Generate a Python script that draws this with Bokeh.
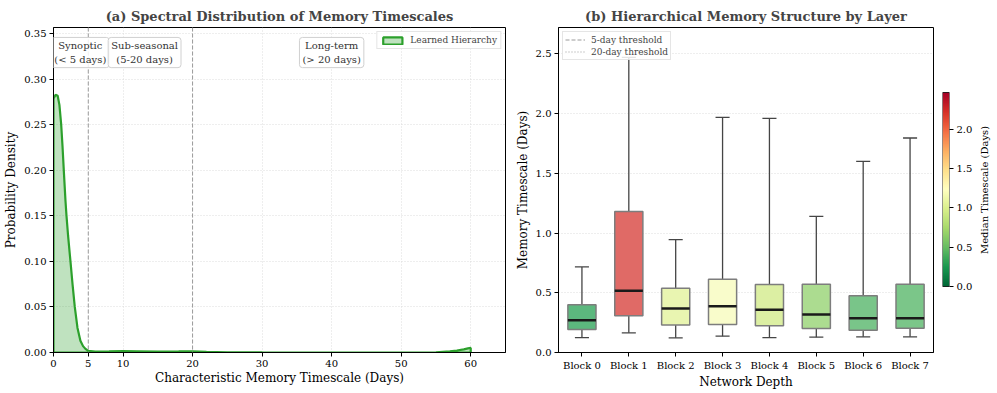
import numpy as np
from bokeh.plotting import figure
from bokeh.layouts import row
from bokeh.models import (ColumnDataSource, FixedTicker, Span, Label,
                          LinearColorMapper, NumeralTickFormatter, FactorRange, Range1d)
from bokeh.transform import dodge
from bokeh.embed import file_html
from bokeh.resources import INLINE

FONT = "DejaVu Serif"

# ---------------- Panel (a) data ----------------
kde_x = [0.0, 0.3, 0.6, 0.85, 1.1, 1.3, 1.48, 1.72, 1.87, 2.1, 2.44, 2.75, 3.06, 3.45,
         3.87, 4.25, 4.6, 5.0, 6.0, 8.0, 10.0, 12.0, 15.0, 18.0, 20.0, 22.0, 25.0, 30.0,
         40.0, 50.0, 55.0, 57.0, 58.0, 59.0, 59.6, 60.0]
kde_y = [0.279, 0.283, 0.282, 0.272, 0.251, 0.226, 0.200, 0.167, 0.150, 0.128, 0.100,
         0.074, 0.050, 0.027, 0.013, 0.007, 0.004, 0.0018, 0.0010, 0.0012, 0.0016, 0.0014,
         0.0010, 0.0012, 0.0014, 0.0008, 0.0003, 0.0001, 0.0, 0.0, 0.0003, 0.0012, 0.0022,
         0.0035, 0.0045, 0.0050]
thresholds = [5, 20]
x_ticks_a = [0, 5, 10, 20, 30, 40, 50, 60]
y_ticks_a = [0.0, 0.05, 0.10, 0.15, 0.20, 0.25, 0.30, 0.35]
region_text = ["Synoptic\n(< 5 days)", "Sub-seasonal\n(5-20 days)", "Long-term\n(> 20 days)"]
region_x = [3.85, 13.1, 40.0]
region_y = 0.3295

# ---------------- Panel (b) data ----------------
blocks = ["Block 0", "Block 1", "Block 2", "Block 3", "Block 4", "Block 5", "Block 6", "Block 7"]
whisk_lo = [0.125, 0.165, 0.123, 0.137, 0.125, 0.128, 0.131, 0.131]
q1 = [0.192, 0.307, 0.231, 0.234, 0.223, 0.200, 0.187, 0.203]
med = [0.270, 0.516, 0.368, 0.387, 0.357, 0.318, 0.287, 0.287]
q3 = [0.399, 1.180, 0.538, 0.613, 0.569, 0.571, 0.474, 0.571]
whisk_hi = [0.716, 2.470, 0.945, 1.967, 1.959, 1.140, 1.600, 1.795]
box_colors = ["#5cb87e", "#e06a66", "#e9f5b1", "#f9fccb", "#dcefa3", "#acdc90", "#79c589", "#7bc689"]
y_ticks_b = [0.0, 0.5, 1.0, 1.5, 2.0, 2.5]
cbar_ticks = [0.0, 0.5, 1.0, 1.5, 2.0]
cbar_high = 2.47

GREEN = "#2ca02c"
TOP, BOTTOM = 27, 41
H = 393
FRAME_H = H - TOP - BOTTOM
W1, W2, W3 = 508, 434, 33
W4 = 997 - W1 - W2 - W3


def style_axes(p):
    for ax in (p.xaxis[0], p.yaxis[0]):
        ax.axis_label_text_font = FONT
        ax.axis_label_text_font_size = "12px"
        ax.axis_label_text_font_style = "normal"
        ax.axis_label_text_color = "black"
        ax.major_label_text_font = FONT
        ax.major_label_text_font_size = "10px"
        ax.major_label_text_color = "black"
        ax.major_tick_out = 4
        ax.major_tick_in = 0
        ax.minor_tick_out = 0
        ax.minor_tick_in = 0
        ax.major_label_standoff = 3
        ax.axis_label_standoff = 3
        ax.axis_line_color = "black"
        ax.major_tick_line_color = "black"
    p.xaxis[0].axis_label_standoff = 1
    p.outline_line_color = "black"
    p.outline_line_width = 1
    p.outline_line_alpha = 1
    p.title.text_font = FONT
    p.title.text_font_size = "13px"
    p.title.text_font_style = "bold"
    p.title.align = "center"
    p.title.standoff = 8


def style_legend(lg, glyph_w, glyph_h, row_h, pad):
    lg.label_text_font = FONT
    lg.label_text_font_size = "9px"
    lg.glyph_width = glyph_w
    lg.glyph_height = glyph_h
    lg.label_height = row_h
    lg.padding = pad
    lg.margin = 4
    lg.spacing = 1
    lg.label_standoff = 6
    lg.border_line_color = "#cccccc"
    lg.background_fill_alpha = 0.85


# ---------------- Panel (a) ----------------
p1 = figure(width=W1, height=H, x_range=Range1d(0, 65), y_range=Range1d(0, 0.357),
            output_backend="svg", toolbar_location=None,
            min_border_left=53, min_border_right=3, min_border_top=TOP, min_border_bottom=BOTTOM,
            title="(a) Spectral Distribution of Memory Timescales")
style_axes(p1)
p1.xaxis.ticker = FixedTicker(ticks=x_ticks_a)
p1.yaxis.ticker = FixedTicker(ticks=y_ticks_a)
p1.yaxis.formatter = NumeralTickFormatter(format="0.00")
p1.xaxis.axis_label = "Characteristic Memory Timescale (Days)"
p1.yaxis.axis_label = "Probability Density"
for g in (p1.xgrid[0], p1.ygrid[0]):
    g.grid_line_color = "#d4d4d4"
    g.grid_line_dash = "1 2"
    g.grid_line_alpha = 0.8

for t in thresholds:
    p1.add_layout(Span(location=t, dimension="height", line_color="#9a9a9a",
                       line_dash="4 2", line_width=1))

px = list(kde_x) + [kde_x[-1], kde_x[0]]
py = list(kde_y) + [0.0, 0.0]
p1.patch(px, py, fill_color=GREEN, fill_alpha=0.3, line_color=GREEN, line_width=2.2,
         legend_label="Learned Hierarchy")

for txt, rx in zip(region_text, region_x):
    p1.add_layout(Label(x=rx, y=region_y, text=txt, text_align="center", text_baseline="middle",
                        text_font=FONT, text_font_size="10px", text_color="#333333",
                        background_fill_color="white", background_fill_alpha=0.85,
                        border_line_color="#d0d0d0", border_line_alpha=1, border_line_width=1,
                        padding=3, border_radius=3))

lg = p1.legend[0]
lg.location = "top_right"
style_legend(lg, 24, 9, 9, 3)

# ---------------- Panel (b) ----------------
p2 = figure(width=W2, height=H, x_range=FactorRange(*blocks), y_range=Range1d(0, 2.72),
            output_backend="svg", toolbar_location=None,
            min_border_left=50, min_border_right=W2 - 50 - 375, min_border_top=TOP,
            min_border_bottom=BOTTOM,
            title="(b) Hierarchical Memory Structure by Layer")
style_axes(p2)
p2.yaxis.ticker = FixedTicker(ticks=y_ticks_b)
p2.yaxis.formatter = NumeralTickFormatter(format="0.0")
p2.xaxis.axis_label = "Network Depth"
p2.yaxis.axis_label = "Memory Timescale (Days)"
p2.xgrid.visible = False
p2.ygrid.grid_line_color = "#d4d4d4"
p2.ygrid.grid_line_dash = "1 2"
p2.ygrid.grid_line_alpha = 0.8

src = ColumnDataSource(dict(block=blocks, lo=whisk_lo, q1=q1, med=med, q3=q3, hi=whisk_hi,
                            color=box_colors))
WC = "#454545"
p2.segment(x0="block", y0="q3", x1="block", y1="hi", source=src, line_color=WC, line_width=1.3)
p2.segment(x0="block", y0="lo", x1="block", y1="q1", source=src, line_color=WC, line_width=1.3)
p2.segment(x0=dodge("block", -0.15, range=p2.x_range), y0="hi",
           x1=dodge("block", 0.15, range=p2.x_range), y1="hi", source=src, line_color=WC, line_width=1.3)
p2.segment(x0=dodge("block", -0.15, range=p2.x_range), y0="lo",
           x1=dodge("block", 0.15, range=p2.x_range), y1="lo", source=src, line_color=WC, line_width=1.3)
p2.vbar(x="block", bottom="q1", top="q3", width=0.6, source=src, fill_color="color",
        line_color="#7d7d7d", line_width=1.5)
p2.segment(x0=dodge("block", -0.3, range=p2.x_range), y0="med",
           x1=dodge("block", 0.3, range=p2.x_range), y1="med", source=src,
           line_color="#1a1a1a", line_width=2.5)

p2.line(x=[blocks[0], blocks[-1]], y=[thresholds[0]] * 2, line_color="#9a9a9a", line_dash="4 2",
        line_width=1, legend_label="5-day threshold")
p2.line(x=[blocks[0], blocks[-1]], y=[thresholds[1]] * 2, line_color="#9a9a9a", line_dash="1 2",
        line_width=1, legend_label="20-day threshold")
lg2 = p2.legend[0]
lg2.location = "top_left"
style_legend(lg2, 20, 11, 11, 2)


# ---------------- Colour bar (own small figure, same borders as panels) ----------------
def interp_palette(colors, n):
    rgb = np.array([[int(c[i:i + 2], 16) for i in (1, 3, 5)] for c in colors], dtype=float)
    t = np.linspace(0, 1, len(colors))
    out = []
    for v in np.linspace(0, 1, n):
        out.append("#%02x%02x%02x" % tuple(int(round(np.interp(v, t, rgb[:, k]))) for k in range(3)))
    return out


rdylgn_r = ['#006837', '#1a9850', '#66bd63', '#a6d96a', '#d9ef8b', '#ffffbf',
            '#fee08b', '#fdae61', '#f46d43', '#d73027', '#a50026']
mapper = LinearColorMapper(palette=interp_palette(rdylgn_r, 256), low=0, high=cbar_high)

# bar occupies the middle 60 % of the frame height (pixel rows 92..286 of the page)
BAR_TOP_PX, BAR_BOTTOM_PX = 92, 286
per_px = cbar_high / (BAR_BOTTOM_PX - BAR_TOP_PX)
cb_lo = -(H - BOTTOM - BAR_BOTTOM_PX) * per_px
cb_hi = cbar_high + (BAR_TOP_PX - TOP) * per_px

p3 = figure(width=W3, height=H, x_range=Range1d(0, 1), y_range=Range1d(cb_lo, cb_hi),
            y_axis_location="right", output_backend="svg", toolbar_location=None,
            min_border_left=0, min_border_right=W3 - 10, min_border_top=TOP,
            min_border_bottom=BOTTOM)
p3.xaxis.visible = False
p3.grid.visible = False
p3.outline_line_color = None
grad = np.linspace(0, cbar_high, 256).reshape(256, 1)
p3.image(image=[grad], x=0, y=0, dw=1, dh=cbar_high, color_mapper=mapper)
p3.quad(left=[0], right=[1], bottom=[0], top=[cbar_high], fill_color=None,
        line_color="black", line_width=0.8)
ca = p3.yaxis[0]
ca.ticker = FixedTicker(ticks=cbar_ticks)
ca.formatter = NumeralTickFormatter(format="0.0")
ca.major_label_text_font = FONT
ca.major_label_text_font_size = "10px"
ca.major_label_text_color = "black"
ca.major_tick_out = 4
ca.major_tick_in = 0
ca.minor_tick_out = 0
ca.minor_tick_in = 0
ca.major_label_standoff = 3
ca.axis_line_color = None
ca.major_tick_line_color = "black"

# ---------------- Colour-bar label (narrow companion figure) ----------------
p4 = figure(width=W4, height=H, x_range=Range1d(0, 1), y_range=Range1d(0, 1),
            output_backend="svg", toolbar_location=None,
            min_border_left=0, min_border_right=0, min_border_top=TOP, min_border_bottom=BOTTOM)
p4.xaxis.visible = False
p4.grid.visible = False
p4.outline_line_color = None
ya = p4.yaxis[0]
ya.ticker = FixedTicker(ticks=[])
ya.axis_line_color = None
ya.major_tick_out = 0
ya.major_tick_in = 0
ya.minor_tick_out = 0
ya.minor_tick_in = 0
ya.major_label_standoff = 0
ya.axis_label_standoff = 0
ya.axis_label = "Median Timescale (Days)"
ya.axis_label_text_font = FONT
ya.axis_label_text_font_size = "10px"
ya.axis_label_text_font_style = "normal"
ya.axis_label_text_color = "black"

layout = row(p1, p2, p3, p4)
open("out.html", "w").write(file_html(layout, INLINE))
